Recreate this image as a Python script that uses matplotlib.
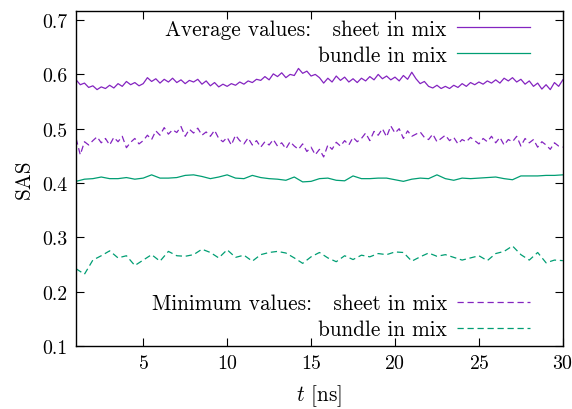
import numpy as np
import matplotlib
matplotlib.use('Agg')
import matplotlib.pyplot as plt

plt.rcParams['font.family'] = ['cmr10', 'DejaVu Serif']
plt.rcParams['mathtext.fontset'] = 'cm'
plt.rcParams['axes.formatter.use_mathtext'] = True
plt.rcParams['font.size'] = 15.3

# time grids (ns)
t_fine = np.arange(1.0, 30.001, 0.25)
t_coarse = np.arange(1.0, 30.001, 0.5)

# average SAS, sheet in mix (0.25 ns steps)
sheet_avg = [
    0.590, 0.581, 0.584, 0.576, 0.579, 0.572, 0.577, 0.574,
    0.580, 0.575, 0.583, 0.578, 0.587, 0.581, 0.585, 0.579,
    0.583, 0.594, 0.587, 0.592, 0.584, 0.591, 0.586, 0.593,
    0.585, 0.590, 0.583, 0.589, 0.586, 0.591, 0.582, 0.588,
    0.579, 0.585, 0.577, 0.582, 0.578, 0.583, 0.580, 0.586,
    0.582, 0.588, 0.585, 0.591, 0.589, 0.596, 0.590, 0.601,
    0.596, 0.603, 0.594, 0.600, 0.598, 0.611, 0.602, 0.606,
    0.597, 0.600, 0.594, 0.584, 0.593, 0.586, 0.597, 0.589,
    0.595, 0.586, 0.592, 0.585, 0.593, 0.588, 0.596, 0.590,
    0.600, 0.592, 0.597, 0.590, 0.595, 0.588, 0.598, 0.591,
    0.604, 0.592, 0.583, 0.587, 0.578, 0.575, 0.580, 0.574,
    0.578, 0.574, 0.580, 0.576, 0.583, 0.578, 0.585, 0.581,
    0.586, 0.582, 0.588, 0.584, 0.590, 0.584, 0.593, 0.588,
    0.594, 0.586, 0.591, 0.582, 0.588, 0.578, 0.584, 0.573,
    0.581, 0.572, 0.585, 0.578, 0.590,
]

# minimum SAS, sheet in mix (0.25 ns steps)
sheet_min = [
    0.482, 0.452, 0.476, 0.470, 0.478, 0.485, 0.474, 0.482,
    0.470, 0.484, 0.476, 0.486, 0.465, 0.475, 0.482, 0.472,
    0.478, 0.488, 0.480, 0.496, 0.488, 0.502, 0.490, 0.498,
    0.493, 0.504, 0.486, 0.499, 0.492, 0.501, 0.488, 0.494,
    0.486, 0.497, 0.482, 0.476, 0.484, 0.470, 0.488, 0.478,
    0.472, 0.483, 0.470, 0.478, 0.466, 0.476, 0.470, 0.480,
    0.468, 0.474, 0.463, 0.476, 0.468, 0.462, 0.472, 0.458,
    0.466, 0.452, 0.462, 0.448, 0.470, 0.462, 0.475, 0.468,
    0.478, 0.470, 0.484, 0.476, 0.482, 0.492, 0.478, 0.495,
    0.488, 0.500, 0.485, 0.505, 0.492, 0.500, 0.482, 0.496,
    0.486, 0.490, 0.494, 0.484, 0.480, 0.490, 0.476, 0.482,
    0.488, 0.478, 0.484, 0.472, 0.480, 0.476, 0.484, 0.478,
    0.472, 0.482, 0.476, 0.486, 0.474, 0.484, 0.470, 0.480,
    0.476, 0.486, 0.468, 0.482, 0.474, 0.480, 0.466, 0.476,
    0.470, 0.462, 0.474, 0.468, 0.466,
]

# average SAS, bundle in mix (0.5 ns steps)
bundle_avg = [
    0.403, 0.407, 0.408, 0.411, 0.408, 0.408, 0.410, 0.407, 0.409, 0.415,
    0.409, 0.409, 0.410, 0.414, 0.415, 0.412, 0.408, 0.411, 0.415, 0.409,
    0.408, 0.414, 0.410, 0.408, 0.407, 0.405, 0.411, 0.402, 0.403, 0.408,
    0.409, 0.405, 0.404, 0.413, 0.408, 0.408, 0.409, 0.409, 0.406, 0.403,
    0.407, 0.409, 0.408, 0.415, 0.408, 0.405, 0.409, 0.408, 0.409, 0.410,
    0.411, 0.408, 0.406, 0.413, 0.413, 0.413, 0.414, 0.414, 0.415,
]

# minimum SAS, bundle in mix (0.5 ns steps)
bundle_min = [
    0.242, 0.232, 0.258, 0.266, 0.275, 0.262, 0.266, 0.248, 0.258, 0.268,
    0.256, 0.274, 0.266, 0.265, 0.268, 0.278, 0.272, 0.262, 0.277, 0.263,
    0.267, 0.256, 0.268, 0.272, 0.274, 0.271, 0.262, 0.252, 0.264, 0.272,
    0.262, 0.255, 0.266, 0.259, 0.267, 0.264, 0.270, 0.268, 0.273, 0.272,
    0.256, 0.264, 0.271, 0.265, 0.268, 0.263, 0.258, 0.262, 0.266, 0.257,
    0.270, 0.274, 0.284, 0.268, 0.258, 0.272, 0.253, 0.258, 0.257,
]

purple = '#8424c0'
green = '#009e73'
dash = (0, (5, 3))

fig = plt.figure(figsize=(5.72, 4.10), dpi=100)
ax = fig.add_axes([0.133, 0.154, 0.851, 0.817])

l1, = ax.plot(t_fine, sheet_avg, color=purple, lw=0.9)
l2, = ax.plot(t_coarse, bundle_avg, color=green, lw=0.9)
l3, = ax.plot(t_fine, sheet_min, color=purple, lw=0.9, linestyle=dash)
l4, = ax.plot(t_coarse, bundle_min, color=green, lw=0.9, linestyle=dash)

ax.set_xlim(1, 30)
ax.set_ylim(0.1, 0.717)
ax.set_xticks([5, 10, 15, 20, 25, 30])
ax.set_yticks([0.1, 0.2, 0.3, 0.4, 0.5, 0.6, 0.7])
ax.set_yticklabels(['0.1', '0.2', '0.3', '0.4', '0.5', '0.6', '0.7'])
ax.tick_params(direction='in', length=6, width=0.8, top=True, right=True,
               pad=6, labelsize=14.3)
for s in ax.spines.values():
    s.set_linewidth(1.0)

ax.set_xlabel(r'$t$ [ns]', labelpad=7)
ax.set_ylabel('SAS', labelpad=6)

leg_kw = dict(frameon=False, markerfirst=False, handlelength=3.4,
              handletextpad=0.5, labelspacing=0.3, borderpad=0,
              borderaxespad=0)
leg1 = ax.legend([l1, l2], ['Average values:   sheet in mix', 'bundle in mix'],
                 loc='upper right', bbox_to_anchor=(0.932, 0.975), **leg_kw)
ax.add_artist(leg1)
ax.legend([l3, l4], ['Minimum values:   sheet in mix', 'bundle in mix'],
          loc='lower right', bbox_to_anchor=(0.932, 0.02), **leg_kw)

fig.savefig('out.png', dpi=100)
